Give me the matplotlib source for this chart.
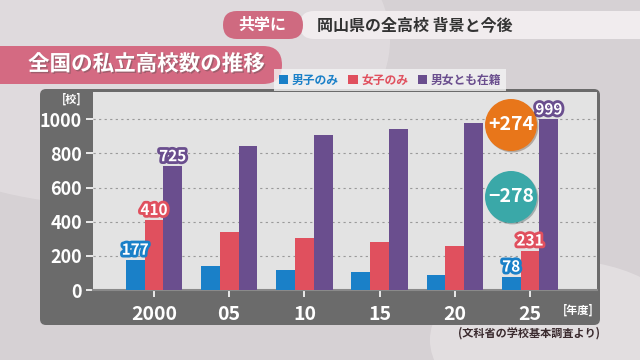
import numpy as np
import matplotlib
matplotlib.use("Agg")
from matplotlib import pyplot as plt
from matplotlib.patches import FancyBboxPatch, Circle, Ellipse, Patch
import matplotlib.patheffects as pe

plt.rcParams['font.family'] = ['Noto Sans CJK JP', 'DejaVu Sans']
plt.rcParams['font.weight'] = 'bold'

years = ['2000', '05', '10', '15', '20', '25']
boys_only = [177, 140, 119, 103, 88, 78]
girls_only = [410, 338, 303, 279, 260, 231]
coed = [725, 846, 908, 941, 977, 999]
series_names = ['男子のみ', '女子のみ', '男女とも在籍']
colors = ['#1a80c8', '#e0505e', '#6a4e8e']

fig = plt.figure(figsize=(6.4, 3.6), dpi=100)
fig.patch.set_facecolor('#d6d1d4')

# decoration layer in pixel coords
bg = fig.add_axes([0, 0, 1, 1])
bg.set_xlim(0, 640)
bg.set_ylim(360, 0)
bg.axis('off')
bg.add_patch(Ellipse((110, 40), 560, 330, facecolor='#e2dde0', edgecolor='none', alpha=0.8))
bg.add_patch(Ellipse((560, 340), 260, 160, facecolor='#e6e2e4', edgecolor='none', alpha=0.8))
# header pills
bg.add_patch(FancyBboxPatch((300, 11), 360, 28, boxstyle="round,pad=0,rounding_size=14",
                            facecolor='#f1ecee', edgecolor='none'))
bg.add_patch(FancyBboxPatch((223, 11), 80, 28, boxstyle="round,pad=0,rounding_size=14",
                            facecolor='#cf6a80', edgecolor='none'))
bg.text(262, 25, '共学に', color='white', fontsize=11.5, ha='center', va='center')
bg.text(317, 25, '岡山県の全高校 背景と今後', color='#333333', fontsize=11.5, ha='left', va='center')
# title banner
bg.add_patch(FancyBboxPatch((-20, 46), 302, 38, boxstyle="round,pad=0,rounding_size=19",
                            facecolor='#d46a82', edgecolor='none'))
bg.text(28, 64, '全国の私立高校数の推移', color='white', fontsize=15.5, ha='left', va='center',
        path_effects=[pe.withSimplePatchShadow(offset=(1, -1), alpha=0.4)])
# dark panel
bg.add_patch(FancyBboxPatch((40, 89), 560, 236, boxstyle="round,pad=0,rounding_size=6",
                            facecolor='#6b6b6b', edgecolor='none'))
bg.text(72, 99, '[校]', color='white', fontsize=8, ha='center', va='center')
bg.text(578, 310, '[年度]', color='white', fontsize=8, ha='center', va='center')
bg.text(600, 333, '(文科省の学校基本調査より)', color='#3a2a2e', fontsize=8, ha='right', va='center')
bg.set_zorder(0)

ax = fig.add_axes([93 / 640, 70 / 360, 504 / 640, 198 / 360])
ax.set_zorder(1)
ax.set_facecolor('#e3e3e3')
x = np.arange(len(years))
w = 0.25
for i, (vals, c) in enumerate(zip([boys_only, girls_only, coed], colors)):
    ax.bar(x + (i - 1) * w, vals, width=w, color=c, zorder=3)

ax.set_xlim(-0.81, 5.89)
ax.set_ylim(0, 1160)
ax.set_yticks(range(0, 1001, 200))
ax.set_xticks(x)
ax.set_xticklabels(years)
ax.tick_params(colors='white', labelsize=13, length=5, width=1.2, pad=3)
ax.tick_params(axis='x', pad=6, labelsize=14)
ax.grid(axis='y', color='#9a9a9a', linestyle=(0, (2, 3)), linewidth=0.8, zorder=1)
for s in ['top', 'right', 'left']:
    ax.spines[s].set_visible(False)
ax.spines['bottom'].set_color('#8a8a8a')
ax.spines['bottom'].set_linewidth(1.5)

# value labels
def vlabel(xp, yp, txt, c):
    ax.text(xp, yp + 12, txt, color='white', fontsize=11, ha='center', va='bottom', zorder=5,
            path_effects=[pe.Stroke(linewidth=4, foreground=c), pe.Normal()])

vlabel(0 - w, boys_only[0], '177', colors[0])
vlabel(0, girls_only[0], '410', colors[1])
vlabel(0 + w, coed[0], '725', colors[2])
vlabel(5 - w, boys_only[5], '78', colors[0])
vlabel(5, girls_only[5], '231', colors[1])
vlabel(5 + w, coed[5], '999', colors[2])

# change circles
top = fig.add_axes([0, 0, 1, 1])
top.set_xlim(0, 640)
top.set_ylim(360, 0)
top.axis('off')
top.set_zorder(2)
for (cy, c, t) in [(125, '#e8761a', '+' + str(coed[5] - coed[0])),
                   (197, '#3aa8a8', '\u2212' + str((boys_only[0] + girls_only[0]) - (boys_only[5] + girls_only[5])))]:
    top.add_patch(Circle((511, cy), 26, facecolor=c, edgecolor='none',
                         path_effects=[pe.withSimplePatchShadow(offset=(1, -1), alpha=0.3)]))
    top.text(511, cy, t, color='white', fontsize=14, ha='center', va='center')

handles = [Patch(facecolor=c) for c in colors]
leg = fig.legend(handles, series_names, loc='center', bbox_to_anchor=(390 / 640, 1 - 80 / 360),
                 ncol=3, frameon=True, fancybox=False, facecolor='#f4f4f4', edgecolor='none',
                 fontsize=8.5, handlelength=0.8, handleheight=0.8, handletextpad=0.3,
                 columnspacing=0.8, borderpad=0.4)
leg.set_zorder(3)
for t, c in zip(leg.get_texts(), colors):
    t.set_color(c)

fig.savefig('out.png', dpi=100, facecolor=fig.get_facecolor())
